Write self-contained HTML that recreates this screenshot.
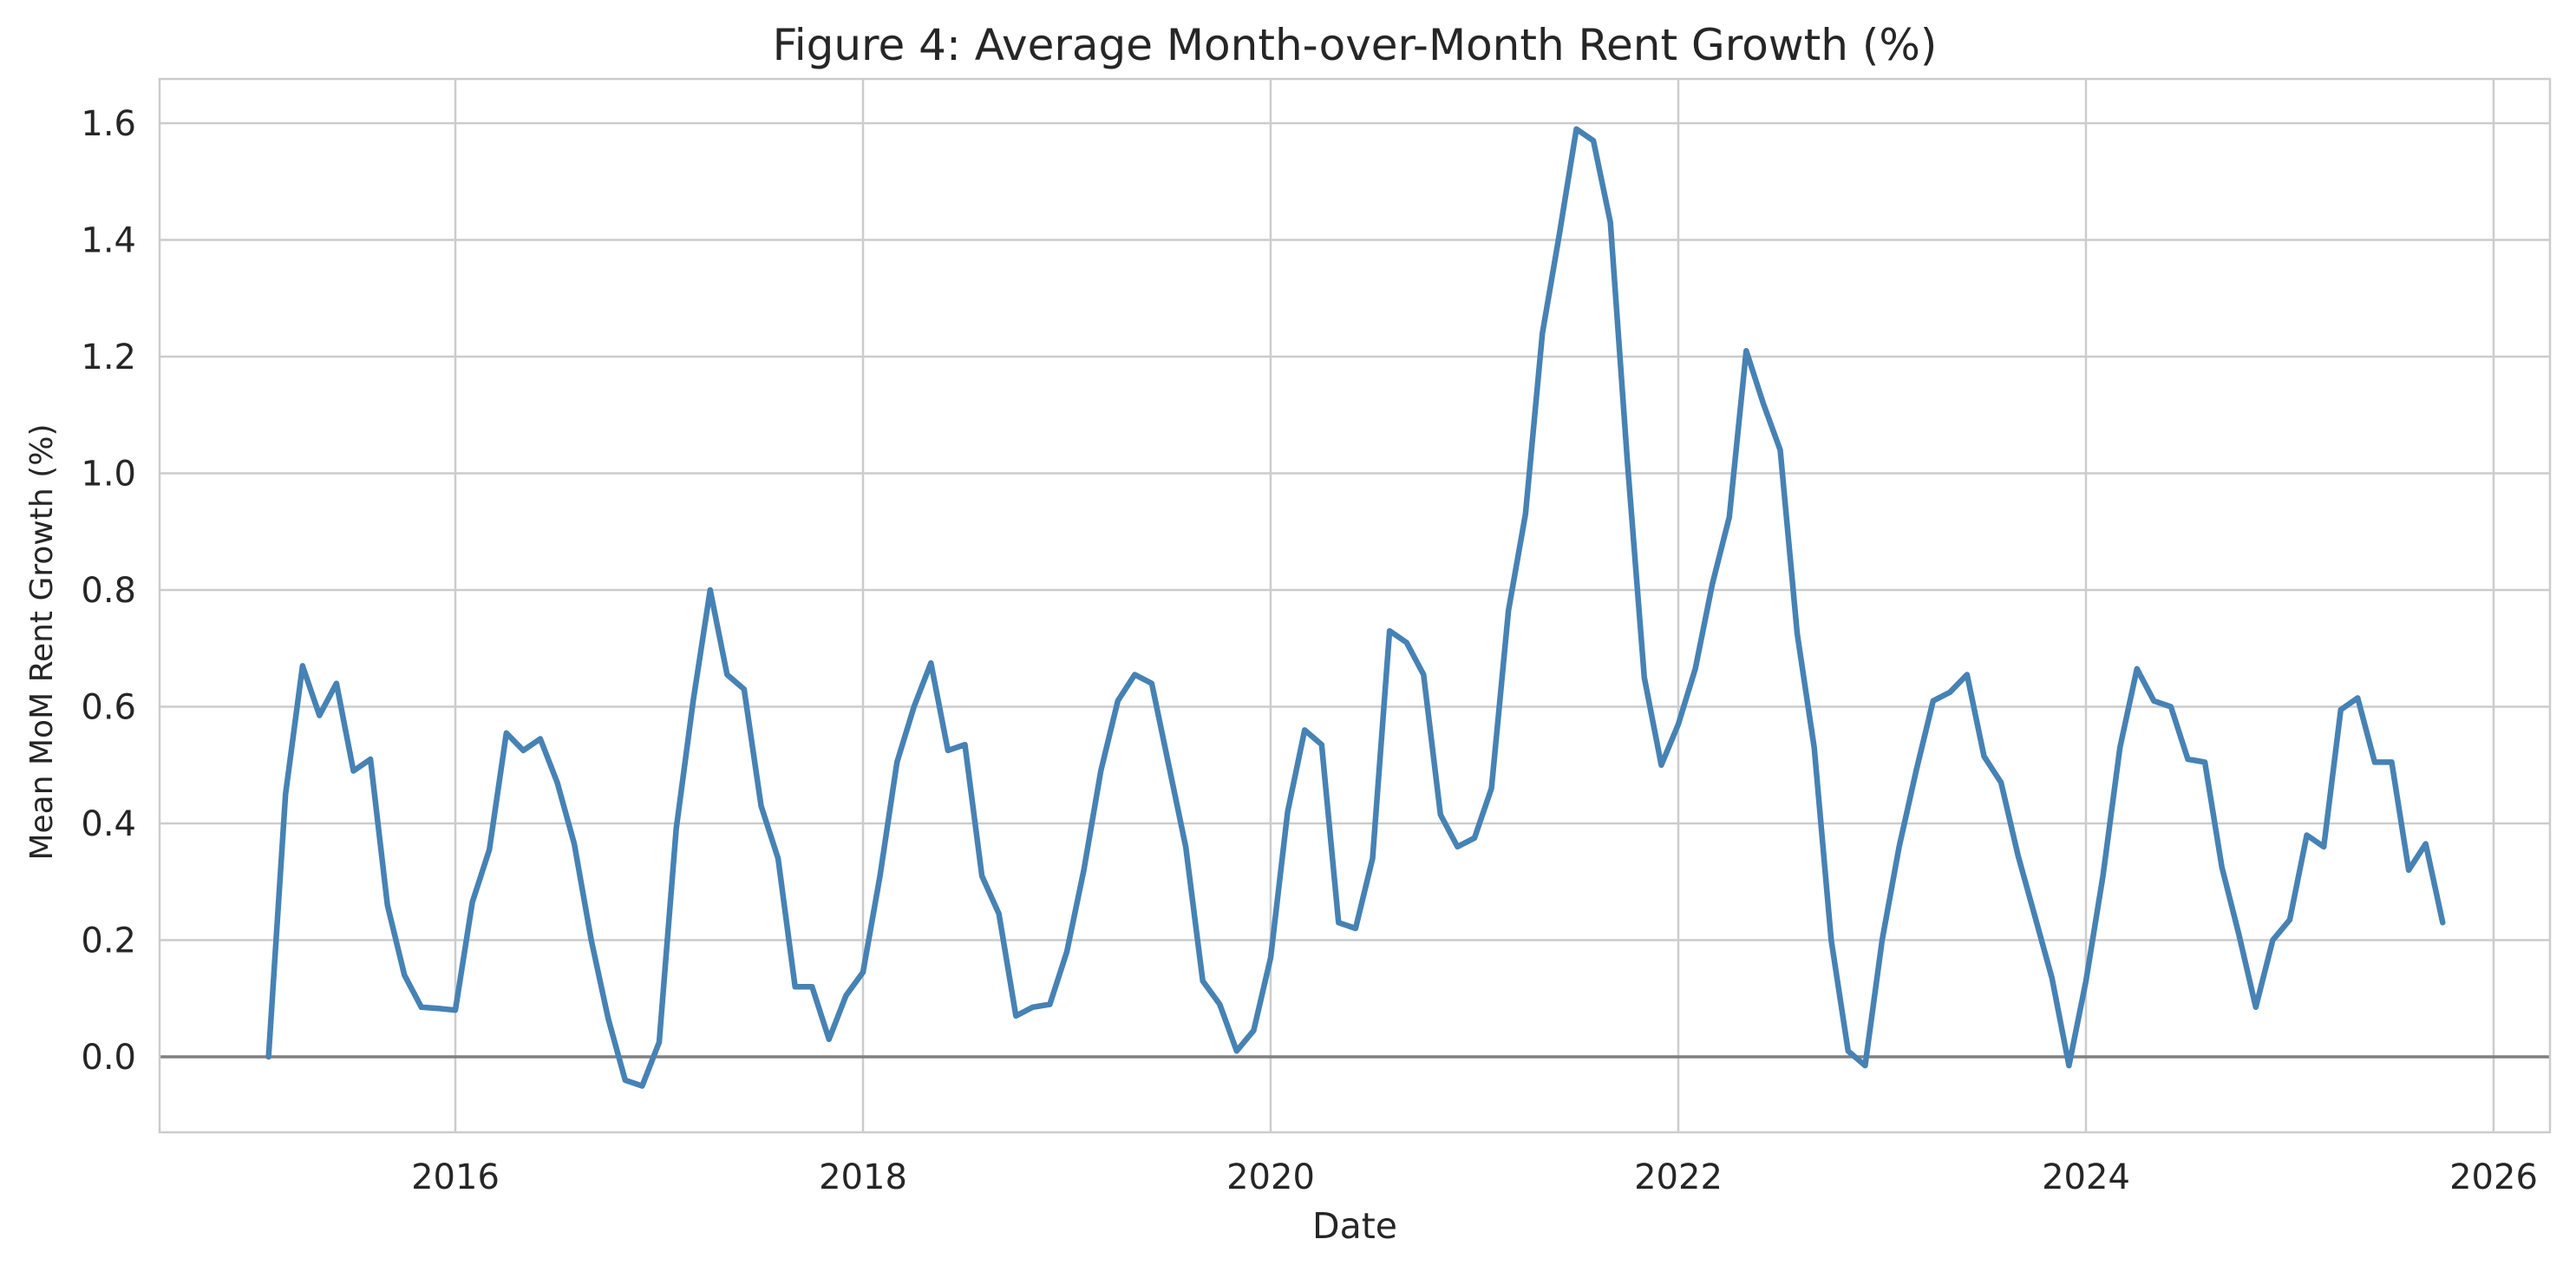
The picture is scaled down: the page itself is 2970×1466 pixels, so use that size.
<!DOCTYPE html>
<html><head><meta charset="utf-8"><style>
html,body{margin:0;padding:0;background:#fff;}
svg{display:block;font-family:"DejaVu Sans","Liberation Sans",sans-serif;}
</style></head><body>
<svg id="chart" width="2970" height="1466" viewBox="0 0 2970 1466" xmlns="http://www.w3.org/2000/svg">
<rect width="2970" height="1466" fill="#fff"/>
<text x="1562" y="69" text-anchor="middle" font-size="50" fill="#262626">Figure 4: Average Month-over-Month Rent Growth (%)</text>
<g id="grid"></g>
<g id="ticks"></g>
<path id="zero" stroke="#808080" stroke-width="3.5" fill="none"/>
<path id="series" stroke="#4682b4" stroke-width="6.5" fill="none" stroke-linejoin="round" stroke-linecap="round"/>
<rect x="184" y="91" width="2756" height="1214" fill="none" stroke="#cccccc" stroke-width="2.5"/>
<text x="1562" y="1427" text-anchor="middle" font-size="41" fill="#262626">Date</text>
<text transform="translate(60,740) rotate(-90)" text-anchor="middle" font-size="36" fill="#262626">Mean MoM Rent Growth (%)</text>
</svg>
<script>
const startYear = 2015, startMonth = 1;
const values = [
0.0,0.45,0.67,0.585,0.64,0.49,0.51,0.26,0.14,0.085,0.083,0.08,
0.265,0.355,0.555,0.525,0.545,0.47,0.365,0.2,0.065,-0.04,-0.05,0.025,
0.39,0.61,0.80,0.655,0.63,0.43,0.34,0.12,0.12,0.03,0.105,0.145,
0.31,0.505,0.6,0.675,0.525,0.535,0.31,0.245,0.07,0.085,0.09,0.18,
0.32,0.49,0.61,0.655,0.64,0.5,0.36,0.13,0.09,0.01,0.045,0.17,
0.42,0.56,0.535,0.23,0.22,0.34,0.73,0.71,0.655,0.415,0.36,0.375,
0.46,0.765,0.93,1.24,1.41,1.59,1.57,1.43,1.02,0.65,0.5,0.57,
0.665,0.81,0.925,1.21,1.12,1.04,0.725,0.53,0.2,0.01,-0.015,0.2,
0.36,0.49,0.61,0.625,0.655,0.515,0.47,0.345,0.24,0.135,-0.015,0.13,
0.31,0.53,0.665,0.61,0.6,0.51,0.505,0.325,0.21,0.085,0.2,0.235,
0.38,0.36,0.595,0.615,0.505,0.505,0.32,0.365,0.23];
const xTicks = [2016,2018,2020,2022,2024,2026];
const yTicks = [0.0,0.2,0.4,0.6,0.8,1.0,1.2,1.4,1.6];
const NS='http://www.w3.org/2000/svg';
const L=184,R=2940,T=91,B=1305;
function xs(yr){return 525+(yr-2016)*235;}
function ys(v){return 1218-v*672.5;}
const grid=document.getElementById('grid'), ticks=document.getElementById('ticks');
function mk(tag,attrs,parent){const e=document.createElementNS(NS,tag);for(const k in attrs)e.setAttribute(k,attrs[k]);parent.appendChild(e);return e;}
xTicks.forEach(t=>{
  const x=xs(t);
  const g=mk('line',{x1:x,x2:x,y1:T,y2:B,stroke:'#cccccc','stroke-width':2.5},grid);
  
  
  const tx=mk('text',{x:x,y:1370,'text-anchor':'middle','font-size':40,fill:'#262626'},ticks);
  tx.textContent=t;
  
  
});
yTicks.forEach(t=>{
  const y=ys(t);
  const g=mk('line',{x1:L,x2:R,y1:y,y2:y,stroke:'#cccccc','stroke-width':2.5},grid);
  
  
  const tx=mk('text',{x:157,y:y+14,'text-anchor':'end','font-size':40,fill:'#262626'},ticks);
  tx.textContent=t.toFixed(1);
  
  
});
document.getElementById('zero').setAttribute('d','M'+L+' '+ys(0)+'L'+R+' '+ys(0));
let d='';
values.forEach((v,i)=>{
  const yr=startYear+(startMonth-1+i+1)/12;
  d+=(i?'L':'M')+xs(yr).toFixed(1)+' '+ys(v).toFixed(1);
});
document.getElementById('series').setAttribute('d',d);
</script>
</body></html>
